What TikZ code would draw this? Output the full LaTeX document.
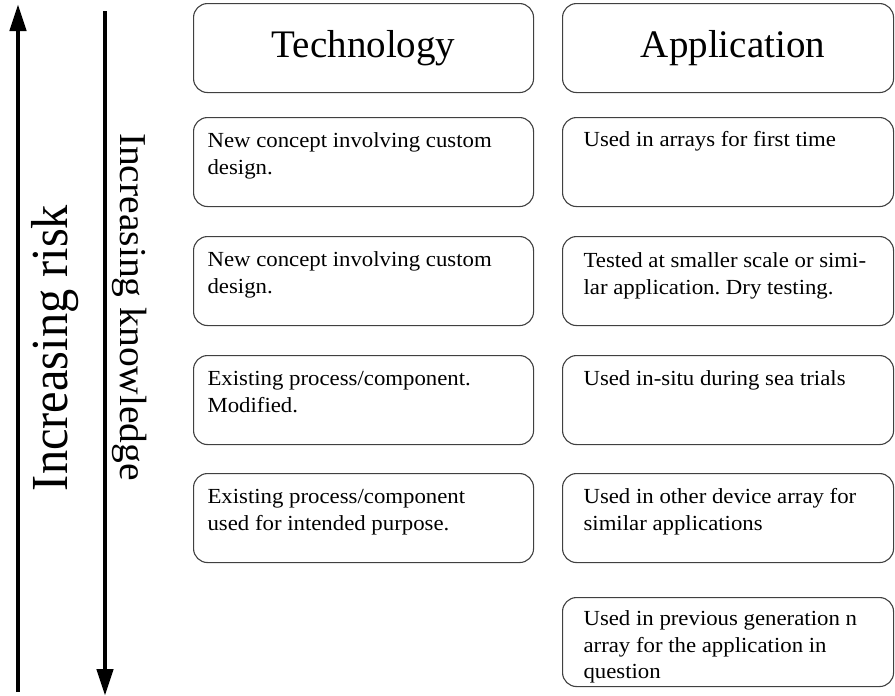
\documentclass[tikz,border=0pt]{standalone}
\usepackage{fontspec}
\setmainfont{Liberation Serif}
\newfontfamily\bodyfont[FakeStretch=1.06]{Liberation Serif}
\newfontfamily\riskfont[FakeStretch=0.93]{Liberation Serif}
\newfontfamily\knowfont[FakeStretch=1.04]{Liberation Serif}
\usetikzlibrary{arrows.meta}
\frenchspacing
\newcommand{\mycell}[3]{\parbox[t][89pt][t]{#1}{\bodyfont\fontsize{21.5}{26.5}\selectfont\raggedright\rule{0pt}{#2}#3}}
\begin{document}
\begin{tikzpicture}[x=1pt,y=-1pt,
  cellbox/.style={draw=black!75, line width=1.1pt, rounded corners=14pt, inner sep=0pt, anchor=north west},
  leftcell/.style={cellbox, inner xsep=14pt},
  rightcell/.style={cellbox, inner xsep=21pt},
  headbox/.style={cellbox, minimum height=89pt, font=\fontsize{39}{39}\selectfont},
  bigarrow/.style={line width=4.6pt, -{Triangle[width=16pt,length=27pt]}}]
\useasboundingbox (0,0) rectangle (895,696);
% arrows
\coordinate (riskbot) at (18,692);
\coordinate (risktop) at (18,4);
\draw[bigarrow] (riskbot) -- (risktop);
\coordinate (knowtop) at (105,11);
\coordinate (knowbot) at (105,696);
\draw[bigarrow] (knowtop) -- (knowbot);
\node[rotate=90, anchor=base, inner sep=0pt, font=\riskfont\fontsize{52}{52}\selectfont] (risk) at (67,348) {Increasing risk};
\node[rotate=-90, anchor=base, inner sep=0pt, font=\knowfont\fontsize{38}{38}\selectfont] (know) at (120,307) {Increasing knowledge};
% headers
\node[headbox, minimum width=340pt] (tech) at (193,3) {Technology};
\node[headbox, minimum width=331pt] (app) at (562,3) {\hspace*{10pt}Application};
% technology column
\node[leftcell] (t1) at (193,117) {\mycell{312pt}{30pt}{New concept involving custom\\design.}};
\node[leftcell] (t2) at (193,236) {\mycell{312pt}{30pt}{New concept involving custom\\design.}};
\node[leftcell] (t3) at (193,355) {\mycell{312pt}{30pt}{Existing process/component.\\Modified.}};
\node[leftcell] (t4) at (193,473) {\mycell{312pt}{30pt}{Existing process/component\\used for intended purpose.}};
% application column
\node[rightcell] (a1) at (562,117) {\mycell{289pt}{29pt}{Used in arrays for first time}};
\node[rightcell] (a2) at (562,236) {\mycell{289pt}{31pt}{Tested at smaller scale or simi-\\lar application. Dry testing.}};
\node[rightcell] (a3) at (562,355) {\mycell{289pt}{30pt}{Used in-situ during sea trials}};
\node[rightcell] (a4) at (562,473) {\mycell{289pt}{30pt}{Used in other device array for\\similar applications}};
\node[rightcell] (a5) at (562,597) {\mycell{289pt}{28pt}{Used in previous generation n\\array for the application in\\question}};
\end{tikzpicture}
\end{document}
